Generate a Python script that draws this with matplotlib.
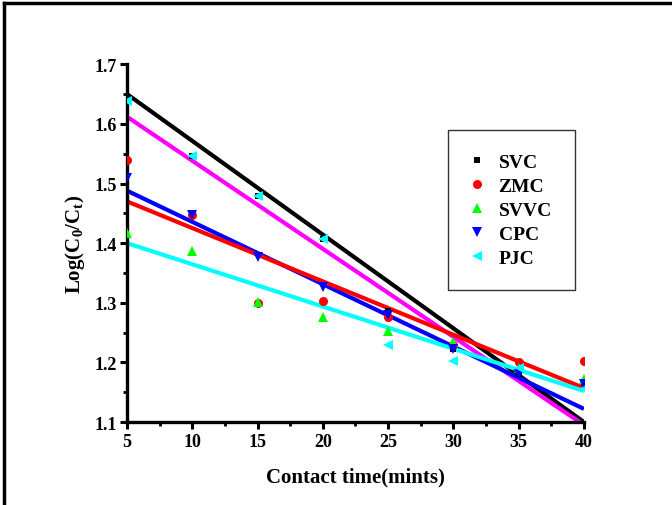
import matplotlib
matplotlib.use("Agg")
import matplotlib.pyplot as plt
from matplotlib.lines import Line2D
from matplotlib.ticker import MultipleLocator

plt.rcParams['font.family'] = 'Liberation Serif'
plt.rcParams['font.weight'] = 'bold'
plt.rcParams['mathtext.fontset'] = 'custom'
plt.rcParams['mathtext.rm'] = 'Liberation Serif:bold'
plt.rcParams['mathtext.it'] = 'Liberation Serif:bold'

time = [5, 10, 15, 20, 25, 30, 35, 40]
svc = [1.640, 1.546, 1.479, 1.407, 1.287, 1.222, 1.180, 1.165]
zmc = [1.540, 1.447, 1.300, 1.303, 1.276, 1.230, 1.200, 1.202]
svvc = [1.417, 1.386, 1.302, 1.276, 1.252, 1.234, 1.190, 1.172]
cpc = [1.510, 1.447, 1.376, 1.326, 1.280, 1.222, 1.180, 1.164]
pjc = [1.638, 1.546, 1.479, 1.407, 1.230, 1.202, 1.190, 1.155]

series_names = ['SVC', 'ZMC', 'SVVC', 'CPC', 'PJC']
series_values = [svc, zmc, svvc, cpc, pjc]
marker_colors = ['black', 'red', '#00ff00', 'blue', 'cyan']
marker_shapes = ['s', 'o', '^', 'v', '<']
marker_sizes = [5, 6.5, 6.5, 6.5, 6.5]

# linear fit lines, value at t=5 and t=40
fit_x = [5, 40]
fit_start = [1.650, 1.612, 1.488, 1.470, 1.400]
fit_end = [1.100, 1.095, 1.122, 1.157, 1.152]
fit_colors = ['black', 'magenta', 'blue', 'red', 'cyan']

fig = plt.figure(figsize=(6.72, 5.06), dpi=100)
ax = fig.add_axes([0.189, 0.164, 0.680, 0.707])

for name, vals, c, m, ms in zip(series_names, series_values, marker_colors, marker_shapes, marker_sizes):
    ax.plot(time, vals, linestyle='none', marker=m, color=c, markersize=ms,
            markeredgewidth=0, label=name, zorder=3)

for s, e, c in zip(fit_start, fit_end, fit_colors):
    ax.plot(fit_x, [s, e], color=c, linewidth=3, solid_capstyle='butt', zorder=2)

ax.set_xlim(5, 40)
ax.set_ylim(1.1, 1.7)
ax.xaxis.set_major_locator(MultipleLocator(5))
ax.xaxis.set_minor_locator(MultipleLocator(2.5))
ax.yaxis.set_major_locator(MultipleLocator(0.1))
ax.yaxis.set_minor_locator(MultipleLocator(0.05))

for side in ['top', 'right']:
    ax.spines[side].set_visible(False)
for side in ['left', 'bottom']:
    ax.spines[side].set_linewidth(2.4)

ax.tick_params(which='major', direction='out', length=5, width=2.2, labelsize=13)
ax.tick_params(which='minor', direction='out', length=3, width=2)
ax.tick_params(axis='x', pad=3)
ax.tick_params(axis='y', pad=2)
for lab in ax.get_xticklabels() + ax.get_yticklabels():
    lab.set_fontweight('bold')

ax.set_xlabel('Contact time(mints)', fontsize=15, fontweight='bold', labelpad=12)
ax.set_ylabel(r'$\mathrm{Log(C_0/C_t)}$', fontsize=15, labelpad=6)

leg = ax.legend(loc='upper left', bbox_to_anchor=(448 / 672, 1 - 131 / 506),
                bbox_transform=fig.transFigure, borderaxespad=0, frameon=True,
                fancybox=False, edgecolor='black', prop={'weight': 'bold', 'size': 14},
                borderpad=1.2, handletextpad=0.8, labelspacing=0.33, handlelength=0.6)
leg.get_frame().set_linewidth(1.0)

# outer frame around the figure (only top and left visible)
fig.add_artist(Line2D([4 / 672, 1], [1 - 4 / 506, 1 - 4 / 506], color='black', linewidth=2.5,
                      transform=fig.transFigure))
fig.add_artist(Line2D([4 / 672, 4 / 672], [0, 1 - 4 / 506], color='black', linewidth=2.5,
                      transform=fig.transFigure))

fig.savefig('out.png', dpi=100)
